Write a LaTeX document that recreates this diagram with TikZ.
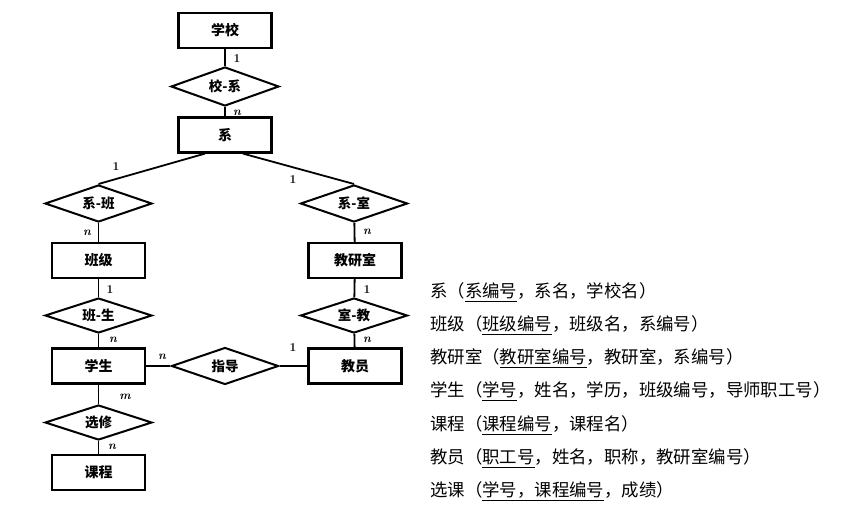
\documentclass[tikz,border=0pt]{standalone}
\usepackage{fontspec}
\newfontfamily\cjk{Noto Sans CJK SC}
\usetikzlibrary{shapes.geometric,calc}
\newcommand{\keyu}[1]{\setbox0\hbox{#1}\rlap{\raisebox{-4.5pt}{\rule{\wd0}{1pt}}}\box0}
\tikzset{
  ent/.style={draw, line width=2.2pt, minimum width=93pt, minimum height=35pt, inner sep=0pt,
    font=\cjk\bfseries\fontsize{14}{14}\selectfont},
  rel/.style={draw, diamond, aspect=2.9, line width=2pt, inner sep=0pt,
    minimum width=107pt, minimum height=37pt, font=\cjk\bfseries\fontsize{13.5}{14}\selectfont},
  card/.style={inner sep=0pt, font=\bfseries\fontsize{12}{12}\selectfont},
  conn/.style={line width=1.8pt},
  rowtxt/.style={anchor=west, inner sep=0pt, font=\cjk\fontsize{17.4}{18}\selectfont}
}
\begin{document}
\begin{tikzpicture}[x=1pt,y=-1pt]
\useasboundingbox (0,0) rectangle (865,511);
% entities
\node[ent] (school) at (225,30.5) {学校};
\node[ent] (dept) at (225,135) {系};
\node[ent] (class) at (98.5,260.5) {班级};
\node[ent] (office) at (355,260.5) {教研室};
\node[ent] (student) at (98.5,366) {学生};
\node[ent] (teacher) at (355,366) {教员};
\node[ent] (course) at (98.5,472.5) {课程};
% relationships
\node[rel, minimum height=39pt, minimum width=108pt] (xs) at (225,86.5) {校-系};
\node[rel] (xb) at (98.5,203.5) {系-班};
\node[rel] (xsh) at (354,203.5) {系-室};
\node[rel, minimum height=35pt] (bs) at (98.5,315.5) {班-生};
\node[rel, minimum height=35pt] (sj) at (354,315.5) {室-教};
\node[rel] (zd) at (225,366) {指导};
\node[rel, minimum height=35pt] (xx) at (98.5,422.5) {选修};
% connectors
\draw[conn] (school) -- (xs);
\draw[conn] (xs) -- (dept);
\draw[conn] ($(dept.south)+(-20,0)$) -- (xb.north);
\draw[conn] ($(dept.south)+(18,0)$) -- (xsh.north);
\draw[conn] (xb) -- (class);
\draw[conn] (xsh) -- (office);
\draw[conn] (class) -- (bs);
\draw[conn] (bs) -- (student);
\draw[conn] (office) -- (sj);
\draw[conn] (sj) -- (teacher);
\draw[conn] (student) -- (zd);
\draw[conn] (zd) -- (teacher);
\draw[conn] (student) -- (xx);
\draw[conn] (xx) -- (course);
% cardinalities
\node[card] (c1) at (237,59) {1};
\node[card] (c2) at (237,113) {\itshape n};
\node[card] (c3) at (116,167) {1};
\node[card] (c4) at (293,180) {1};
\node[card] (c5) at (87,233) {\itshape n};
\node[card] (c6) at (367,232) {\itshape n};
\node[card] (c7) at (110,290) {1};
\node[card] (c8) at (367,290) {1};
\node[card] (c9) at (113,340) {\itshape n};
\node[card] (c10) at (367,340) {\itshape n};
\node[card] (c11) at (162,357) {\itshape n};
\node[card] (c12) at (293,348) {1};
\node[card] (c13) at (125,397) {\itshape m};
\node[card] (c14) at (112,447) {\itshape n};
% relation schemas
\node[rowtxt] (r1) at (430,292) {系（\keyu{系编号}，系名，学校名）};
\node[rowtxt] (r2) at (430,325) {班级（\keyu{班级编号}，班级名，系编号）};
\node[rowtxt] (r3) at (430,358) {教研室（\keyu{教研室编号}，教研室，系编号）};
\node[rowtxt] (r4) at (430,391) {学生（\keyu{学号}，姓名，学历，班级编号，导师职工号）};
\node[rowtxt] (r5) at (430,425) {课程（\keyu{课程编号}，课程名）};
\node[rowtxt] (r6) at (430,458) {教员（\keyu{职工号}，姓名，职称，教研室编号）};
\node[rowtxt] (r7) at (430,491) {选课（\keyu{学号，课程编号}，成绩）};
\end{tikzpicture}
\end{document}
